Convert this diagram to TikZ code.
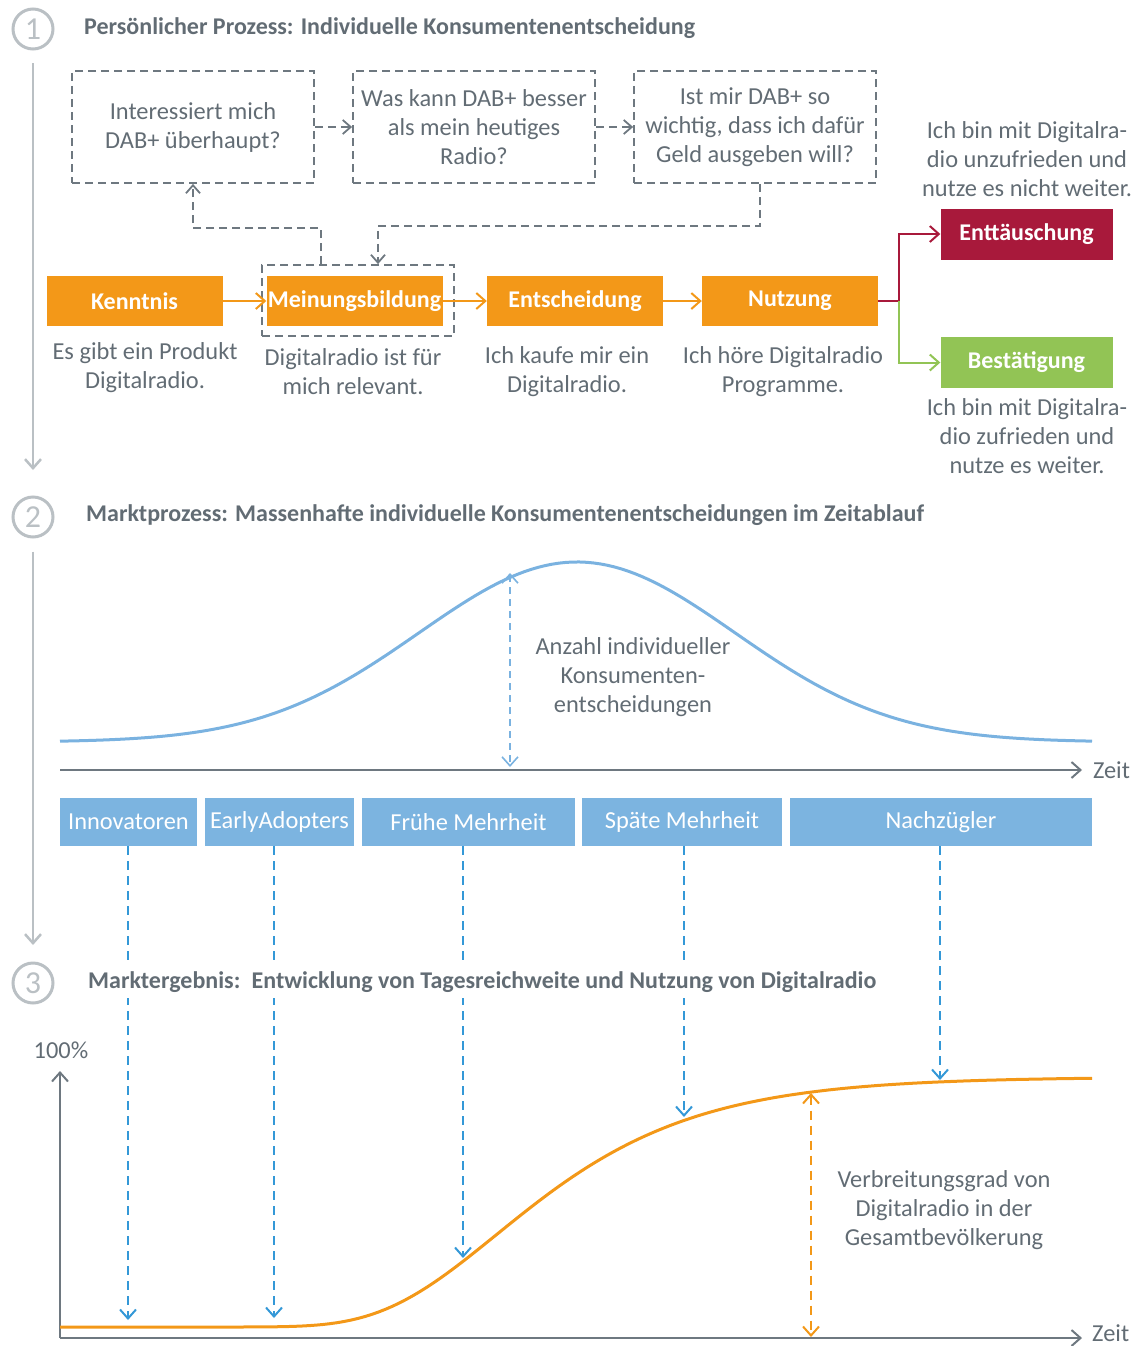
\documentclass[tikz,border=0pt]{standalone}
\usepackage{fontspec}
\setmainfont{Carlito}
\usetikzlibrary{arrows.meta, positioning, calc}

\definecolor{txtgray}{RGB}{98,108,116}
\definecolor{dashgray}{RGB}{110,120,128}
\definecolor{numgray}{RGB}{186,192,196}
\definecolor{dabOrange}{RGB}{243,152,24}
\definecolor{dabRed}{RGB}{168,25,59}
\definecolor{dabGreen}{RGB}{146,196,85}
\definecolor{curveBlue}{RGB}{122,178,224}
\definecolor{boxBlue}{RGB}{124,180,224}
\definecolor{arrBlue}{RGB}{52,152,215}

\newcommand\txtfont{\fontsize{24.4}{29}\selectfont}
\newcommand\headfont{\fontsize{24}{28}\selectfont\bfseries}

\tikzset{
	numcirc/.style={circle, draw=numgray, line width=3pt, minimum size=40pt, inner sep=0pt, text=numgray, font=\fontsize{32}{32}\selectfont},
	headline/.style={anchor=west, inner sep=0pt, text=txtgray, font=\headfont},
	timeline/.style={draw=numgray, line width=2.5pt, ->},
	qbox/.style={draw=dashgray, line width=1.8pt, dash pattern=on 8pt off 5pt, minimum width=242pt, minimum height=112pt, align=center, text=txtgray, font=\txtfont},
	dashflow/.style={draw=dashgray, line width=1.8pt, dash pattern=on 8pt off 5pt, -{Straight Barb[length=8pt,width=14pt]}},
	stage/.style={fill=dabOrange, minimum width=176pt, minimum height=50pt, inner sep=1pt, text=white, font=\headfont},
	result/.style={minimum width=172pt, minimum height=51pt, text=white, font=\headfont},
	note/.style={align=center, text=txtgray, font=\txtfont, inner sep=0pt},
	flow/.style={draw=dabOrange, line width=2pt, ->},
	group/.style={fill=boxBlue, minimum height=48pt, inner sep=0pt, text=white, font=\txtfont},
	axis/.style={draw=dashgray, line width=2pt, ->},
	zeit/.style={anchor=west, inner sep=0pt, xshift=10pt, text=txtgray, font=\txtfont},
	blueline/.style={draw=curveBlue, line width=3pt},
	orangeline/.style={draw=dabOrange, line width=3pt},
	arrdash/.style={draw=arrBlue, line width=2pt, dash pattern=on 9pt off 6pt, ->},
}

\begin{document}
\begin{tikzpicture}[x=1pt, y=-1pt, >={Straight Barb[length=9pt,width=16pt]}]
	\useasboundingbox (0,0) rectangle (1138,1346);

	% 1 -- persoenlicher Prozess
	\node[numcirc] (c1) at (33,29) {1};
	\node[headline] (t1) at (84,28) {Persönlicher Prozess: Individuelle Konsumentenentscheidung};
	\coordinate (e1) at (33,470);
	\draw[timeline] ([yshift=-13pt]c1.south) -- (e1);

	\node[qbox] (qa) at (193,127) {Interessiert mich\\DAB+ überhaupt?};
	\node[qbox] (qb) at (474,127) {Was kann DAB+ besser\\als mein heutiges\\Radio?};
	\node[qbox] (qc) at (755,127) {Ist mir DAB+ so\\wichtig, dass ich dafür\\Geld ausgeben will?};
	\draw[dashflow] (qa) -- (qb);
	\draw[dashflow] (qb) -- (qc);

	\node[draw=dashgray, line width=1.8pt, dash pattern=on 8pt off 5pt, minimum width=192pt, minimum height=71pt] (focus) at (358,300.5) {};
	\foreach \n/\cx/\t in {ken/134.5/Kenntnis, mei/354.5/Meinungsbildung, ent/575/Entscheidung, nut/790/Nutzung}
		\node[stage] (\n) at (\cx,301) {\t};
	\draw[flow] (ken) -- (mei);
	\draw[flow] (mei) -- (ent);
	\draw[flow] (ent) -- (nut);

	\draw[dashflow] ([xshift=-37pt]focus.north) |- ([yshift=-44pt]qa.south) -- (qa.south);
	\draw[dashflow] ([xshift=5pt]qc.south) |- ([xshift=20pt,yshift=38pt]focus.north) -- ([xshift=20pt]focus.north);

	\node[note] (n1) at (145,367.5) {Es gibt ein Produkt\\Digitalradio.};
	\node[note] (n2) at (353,371.5) {Digitalradio ist für\\mich relevant.};
	\node[note] (n3) at (567,371.5) {Ich kaufe mir ein\\Digitalradio.};
	\node[note] (n4) at (783,371.5) {Ich höre Digitalradio\\Programme.};

	\node[result, fill=dabRed] (bad) at (1026.5,234) {Enttäuschung};
	\node[result, fill=dabGreen] (good) at (1026.5,362.5) {Bestätigung};
	\draw[draw=dabRed, line width=2pt, ->] (nut.east) -- ++(21,0) |- (bad.west);
	\draw[draw=dabGreen, line width=2pt, ->] ([xshift=21pt]nut.east) |- (good.west);
	\node[note] (nbad) at (1027,159.5) {Ich bin mit Digitalra-\\dio unzufrieden und\\nutze es nicht weiter.};
	\node[note] (ngood) at (1027,436.5) {Ich bin mit Digitalra-\\dio zufrieden und\\nutze es weiter.};

	% 2 -- Marktprozess
	\node[numcirc] (c2) at (33,517) {2};
	\node[headline] (t2) at (86,515) {Marktprozess: Massenhafte individuelle Konsumentenentscheidungen im Zeitablauf};
	\coordinate (e2) at (33,945);
	\draw[timeline] ([yshift=-13pt]c2.south) -- (e2);

	\draw[blueline] plot[domain=60:1092, samples=150] (\x, {742-180*exp(-0.5*((\x-577)/158)^2)});
	\coordinate (peak) at (510,573);
	\coordinate (base) at (510,767);
	\draw[draw=curveBlue, line width=1.6pt, dash pattern=on 7pt off 5pt, <->] (peak) -- (base);
	\node[note] (anz) at (633,677) {Anzahl individueller\\Konsumenten-\\entscheidungen};

	\coordinate (o2) at (60,770);
	\coordinate (z2) at (1082,770);
	\draw[axis] (o2) -- (z2) node[zeit] (zeit2) {Zeit};

	\foreach \n/\cx/\w/\t in {g1/128.5/137/Innovatoren, g2/279.5/149/EarlyAdopters, g3/468.5/213/Frühe Mehrheit, g4/682/200/Späte Mehrheit, g5/941/302/Nachzügler}
		\node[group, minimum width=\w pt] (\n) at (\cx,822) {\t};

	% 3 -- Marktergebnis
	\node[numcirc] (c3) at (33,983) {3};

	\coordinate (o3) at (60,1338);
	\coordinate (y3) at (60,1071);
	\coordinate (z3) at (1082,1338);
	\draw[axis] (o3) -- (y3);
	\node[note] (hundert) at (61,1050) {100\%};
	\draw[axis] (o3) -- (z3);
	\node[zeit] (zeit3) at (1082,1333) {Zeit};

	\draw[orangeline] plot[domain=60:1092, samples=150] (\x, {1327-250*exp(-exp(-0.0088*(\x-496)))});

	\coordinate (s1) at (128,1320);
	\coordinate (s2) at (274,1318);
	\coordinate (s3) at (463,1258);
	\coordinate (s4) at (684,1117);
	\coordinate (s5) at (940,1080);
	\foreach \i in {1,...,5}
		\draw[arrdash] (g\i.south -| s\i) -- (s\i);
	\node[headline, fill=white, inner xsep=2pt, inner ysep=6pt] (t3) at (86,982) {Marktergebnis:\, Entwicklung von Tagesreichweite und Nutzung von Digitalradio};

	\coordinate (top3) at (811,1093);
	\coordinate (bot3) at (811,1337);
	\draw[draw=dabOrange, line width=2pt, dash pattern=on 9pt off 6pt, <->] (top3) -- (bot3);
	\node[note] (verb) at (944,1210) {Verbreitungsgrad von\\Digitalradio in der\\Gesamtbevölkerung};
\end{tikzpicture}
\end{document}
